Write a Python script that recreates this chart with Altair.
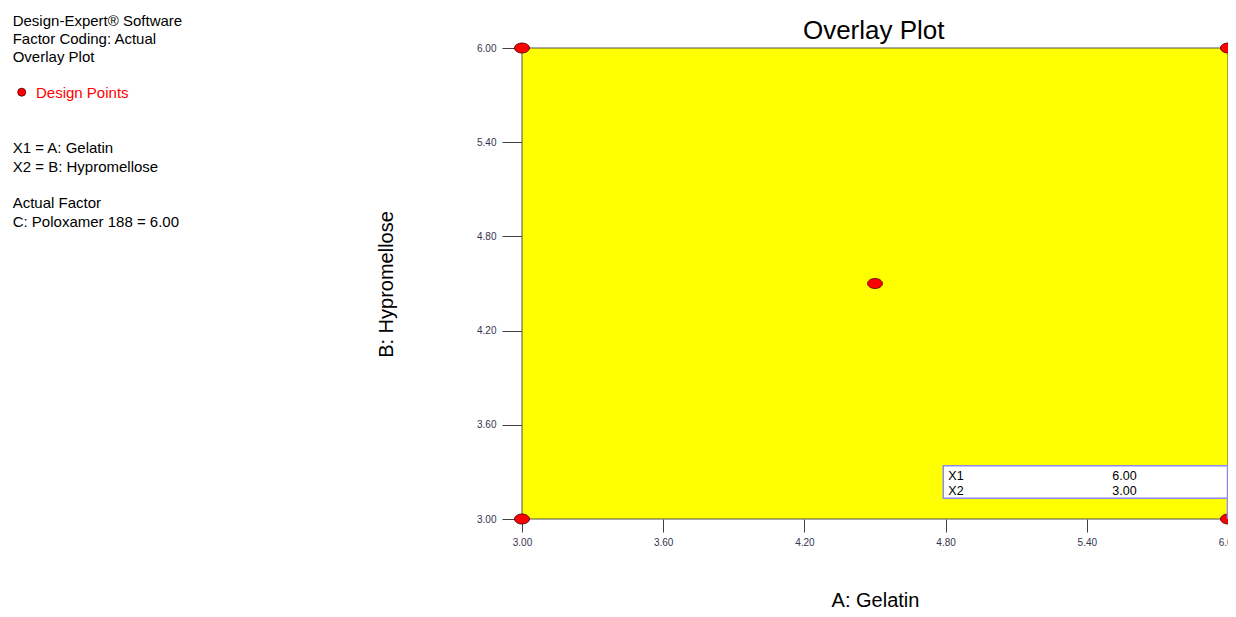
import altair as alt
import pandas as pd

# ---------------- data ----------------
design_x = [3.00, 3.00, 6.00, 6.00, 4.50]
design_y = [3.00, 6.00, 6.00, 3.00, 4.50]
region_x = [3.00, 6.00]
region_y = [3.00, 6.00]
tick_values = [3.00, 3.60, 4.20, 4.80, 5.40, 6.00]
flag_names = ["X1", "X2"]
flag_values = [6.00, 3.00]
header_lines = ["Design-Expert® Software", "Factor Coding: Actual", "Overlay Plot"]
legend_label = "Design Points"
factor_lines = ["X1 = A: Gelatin", "X2 = B: Hypromellose"]
actual_lines = ["Actual Factor", "C: Poloxamer 188 = 6.00"]
chart_title = "Overlay Plot"
x_title = "A: Gelatin"
y_title = "B: Hypromellose"

FONT = "Liberation Sans"
ELLIPSE = ("M -1 0 C -1 -0.368 -0.552 -0.667 0 -0.667 C 0.552 -0.667 1 -0.368 1 0 "
           "C 1 0.368 0.552 0.667 0 0.667 C -0.552 0.667 -1 0.368 -1 0 Z")

PLOT_W = 706
scale = alt.Scale(domain=[3, 6], nice=False, zero=False)

x_axis = alt.Axis(values=tick_values, format=".2f", title=x_title, labelFontSize=10,
                  labelColor="#34344f", tickColor="#404040", tickSize=13, labelPadding=5,
                  domain=False, grid=False, labelFlush=False, labelOverlap=False,
                  titleFontSize=20, titleFontWeight="normal", titleColor="black",
                  titleY=87, titleBaseline="alphabetic", labelFont=FONT, titleFont=FONT)
y_axis = alt.Axis(values=tick_values, format=".2f", title=y_title, labelFontSize=10,
                  labelColor="#34344f", tickColor="#404040", tickSize=20, labelPadding=6,
                  domain=False, grid=False, labelFlush=False, labelOverlap=False,
                  titleFontSize=20, titleFontWeight="normal", titleColor="black",
                  titleX=-130, titleY=236, titleAngle=270, titleAlign="center",
                  titleBaseline="alphabetic", labelFont=FONT, titleFont=FONT)


def X(f):
    return alt.X(f, type="quantitative", scale=scale, axis=x_axis)


def Y(f):
    return alt.Y(f, type="quantitative", scale=scale, axis=y_axis)


region = alt.Chart(pd.DataFrame({"x": [region_x[0]], "xe": [region_x[1]],
                                 "y": [region_y[0]], "ye": [region_y[1]]})).mark_rect(
    fill="#ffff00", stroke="#505050", strokeWidth=1).encode(
    x=X("x"), x2="xe", y=Y("y"), y2="ye")

points = alt.Chart(pd.DataFrame({"x": design_x, "y": design_y})).mark_point(
    shape=ELLIPSE, size=225, filled=True, fill="#ff0000", stroke="#400000",
    strokeWidth=0.8, opacity=1).encode(x=X("x"), y=Y("y"))

flag_box = alt.Chart(pd.DataFrame({"x": [flag_values[0]]})).mark_rect(
    fill="white", stroke="#8a8af0", strokeWidth=1.5).encode(
    x=alt.value(421.3), x2=alt.value(PLOT_W - 0.5), y=alt.value(417.7), y2=alt.value(450.3))

flag_rule = alt.Chart(pd.DataFrame({"x": [flag_values[0]], "y": [flag_values[1]]})).mark_rule(
    color="#8a8af0", strokeWidth=1.5, xOffset=-0.5).encode(
    x=X("x"), y=Y("y"), y2=alt.value(450.3))


def text_layer(text, x, y, size, color="black", align="left", lh=None):
    kw = dict(align=align, baseline="alphabetic", fontSize=size, color=color,
              font=FONT, lineBreak="\n")
    if lh is not None:
        kw["lineHeight"] = lh
    return alt.Chart(pd.DataFrame({"t": [text]})).mark_text(**kw).encode(
        text="t:N", x=alt.value(x), y=alt.value(y))


flag_text1 = text_layer("\n".join(flag_names), 426.3, 432, 12.5, lh=14.5)
flag_text2 = text_layer("\n".join(f"{v:.2f}" for v in flag_values), 590.3, 432, 12.5, lh=14.5)

title_t = text_layer(chart_title, 351.7, -9.5, 26, align="center")
header_t = text_layer("\n".join(header_lines), -509.3, -22.5, 15, lh=18.3)
legend_t = text_layer(legend_label, -486, 50.3, 15, color="#ff0000")
factor_t = text_layer("\n".join(factor_lines), -509.3, 105.3, 15, lh=18.3)
actual_t = text_layer("\n".join(actual_lines), -509.3, 160.3, 15, lh=18.3)

legend_dot = alt.Chart(pd.DataFrame({"t": [legend_label]})).mark_point(
    shape="circle", size=64, filled=True, fill="#ff0000", stroke="#400000",
    strokeWidth=0.8, opacity=1).encode(x=alt.value(-500.3), y=alt.value(44.2))

chart = alt.layer(
    region, points, flag_box, flag_rule, flag_text1, flag_text2,
    title_t, header_t, legend_t, factor_t, actual_t, legend_dot
).properties(
    width=PLOT_W, height=471,
    autosize=alt.AutoSizeParams(type="none"),
    padding={"left": 514, "top": 40, "right": 0, "bottom": 90},
).configure(font=FONT).configure_view(strokeWidth=0)

chart.save("out.html", embed_options={"renderer": "svg", "actions": False})
